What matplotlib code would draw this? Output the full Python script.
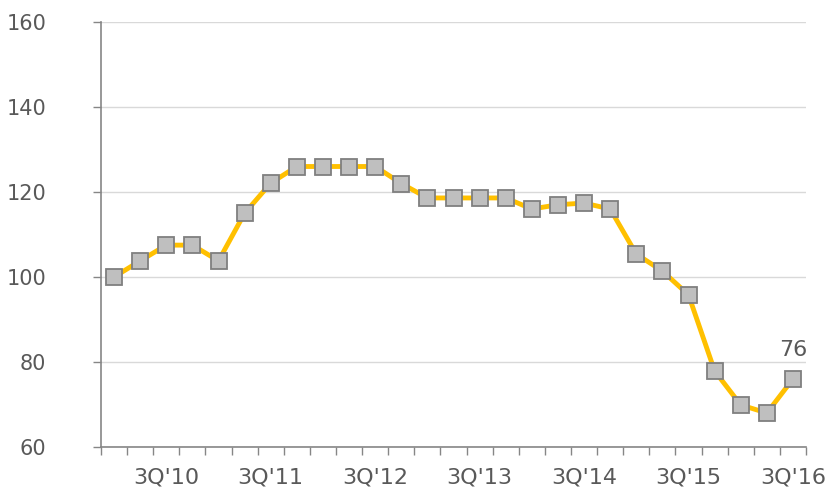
import matplotlib
matplotlib.use('Agg')
import matplotlib.pyplot as plt
import numpy as np

# quarterly index, 1Q'10 .. 3Q'16
values = [100, 103.8, 107.5, 107.5, 103.8, 115, 122.1, 126, 126, 126, 126, 122,
          118.6, 118.6, 118.6, 118.6, 116, 117, 117.4, 116, 105.4, 101.4, 95.8,
          77.9, 69.9, 68, 76]
tick_labels = ["3Q'10", "3Q'11", "3Q'12", "3Q'13", "3Q'14", "3Q'15", "3Q'16"]
tick_idx = [2, 6, 10, 14, 18, 22, 26]

text_col = '#595959'
axis_col = '#868686'

fig = plt.figure(figsize=(8.3, 4.92), dpi=100)
ax = fig.add_axes([101 / 830, 1 - 447 / 492, 705 / 830, 425 / 492])

x = np.arange(len(values))
ax.plot(x, values, color='#ffc000', lw=3.5, zorder=3,
        marker='s', ms=11.5, mfc='#bfbfbf', mec='#7f7f7f', mew=1.3)
ax.annotate(str(round(values[-1])), (x[-1], values[-1]), xytext=(0, 14),
            textcoords='offset points', ha='center', va='bottom',
            fontsize=16, color=text_col)

ax.set_xlim(-0.5, len(values) - 0.5)
ax.set_ylim(60, 160)
ax.set_yticks(range(60, 161, 20))
ax.yaxis.grid(True, color='#d9d9d9', lw=1)
ax.set_axisbelow(True)

# category boundary ticks, labels at the third quarter
ax.set_xticks(np.arange(-0.5, len(values), 1.0))
ax.set_xticklabels([])
ax.set_xticks(tick_idx, minor=True)
ax.set_xticklabels(tick_labels, minor=True)
ax.tick_params(axis='x', which='major', length=6, color=axis_col, width=1, direction='out')
ax.tick_params(axis='x', which='minor', length=0, pad=15, labelsize=16, labelcolor=text_col)
ax.tick_params(axis='y', length=6, color=axis_col, width=1, pad=33.5,
               labelsize=15, labelcolor=text_col)

for side in ['top', 'right']:
    ax.spines[side].set_visible(False)
for side in ['left', 'bottom']:
    ax.spines[side].set_color(axis_col)
    ax.spines[side].set_linewidth(1.2)

fig.savefig('out.png', dpi=100)
